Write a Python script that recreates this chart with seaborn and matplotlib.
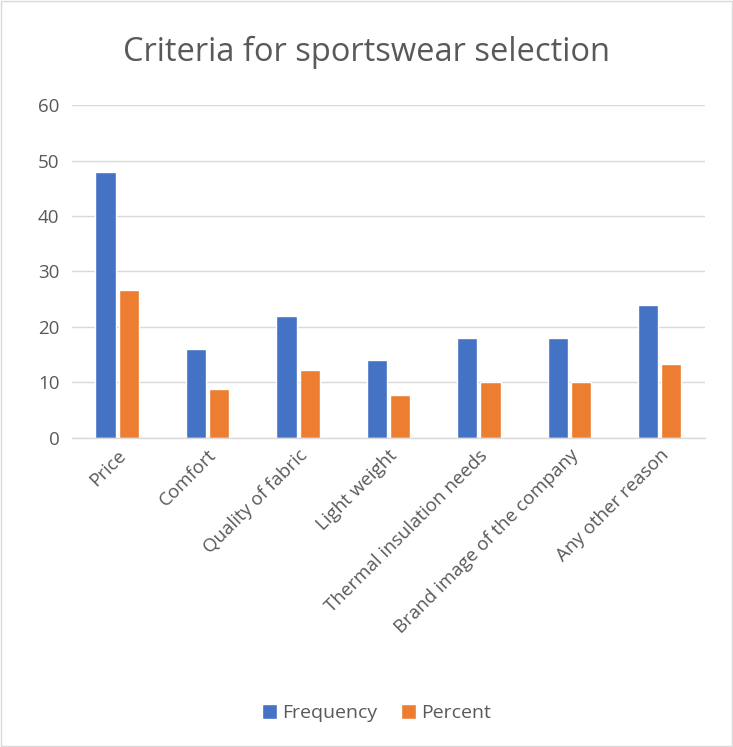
import pandas as pd
import matplotlib.pyplot as plt
import seaborn as sns
from matplotlib.patches import Rectangle

criteria = ['Price', 'Comfort', 'Quality of fabric', 'Light weight',
            'Thermal insulation needs', 'Brand image of the company', 'Any other reason']
frequency = [48, 16, 22, 14, 18, 18, 24]
percent = [26.67, 8.89, 12.22, 7.78, 10.0, 10.0, 13.33]

df = pd.DataFrame({'criteria': criteria * 2,
                   'value': frequency + percent,
                   'series': ['Frequency'] * len(criteria) + ['Percent'] * len(criteria)})

sns.set_theme(style='white')
plt.rcParams['font.family'] = ['Open Sans', 'DejaVu Sans']
grey = '#595959'

fig = plt.figure(figsize=(7.33, 7.47), dpi=100)
ax = fig.add_axes([0.098, 0.4137, 0.864, 0.4457])

sns.barplot(data=df, x='criteria', y='value', hue='series',
            palette=['#4472C4', '#ED7D31'], saturation=1, width=0.51, gap=0.13,
            ax=ax, legend=True)

ax.set_ylim(0, 60)
ax.set_yticks(range(0, 61, 10))
ax.set_xlim(-0.5, len(criteria) - 0.5)
ax.yaxis.grid(True, color='#d9d9d9', linewidth=1)
ax.set_axisbelow(True)
for s in ['top', 'right', 'left']:
    ax.spines[s].set_visible(False)
ax.spines['bottom'].set_color('#d9d9d9')
ax.spines['bottom'].set_linewidth(1)
ax.tick_params(axis='both', length=0, labelsize=13.5, colors=grey, pad=9)
ax.set_xlabel('')
ax.set_ylabel('')
plt.setp(ax.get_xticklabels(), rotation=45, ha='right', rotation_mode='anchor')
ax.tick_params(axis='x', pad=6)

fig.text(0.5, 0.93, 'Criteria for sportswear selection', ha='center', va='center',
         fontsize=23.5, color=grey)

handles, labels = ax.get_legend_handles_labels()
ax.get_legend().remove()
fig.legend(handles, labels, loc='center', bbox_to_anchor=(0.514, 0.045), ncol=2,
           frameon=False, fontsize=14, labelcolor=grey, handlelength=0.75,
           handleheight=0.75, handletextpad=0.3, columnspacing=1.2)

fig.patches.append(Rectangle((0.002, 0.002), 0.996, 0.996, transform=fig.transFigure,
                             fill=False, edgecolor='#d9d9d9', linewidth=1))

plt.savefig('out.png', dpi=100)
